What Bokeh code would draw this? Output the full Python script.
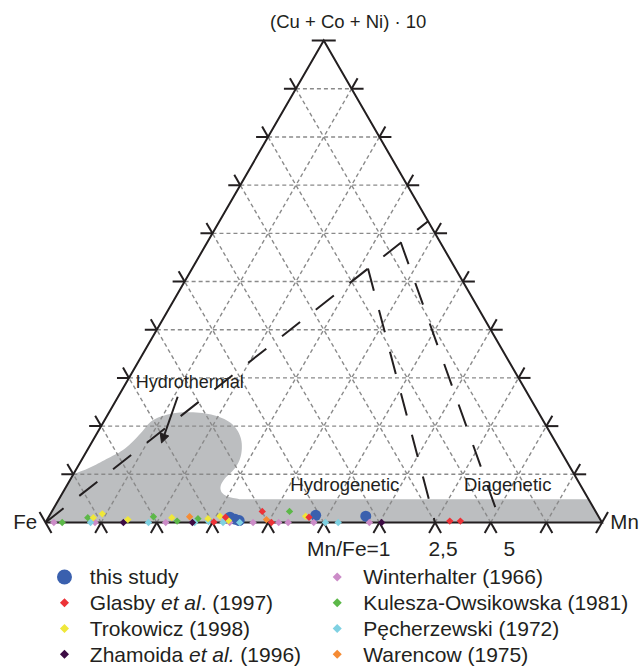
import numpy as np
from bokeh.plotting import figure
from bokeh.models import Range1d, Arrow, NormalHead
from bokeh.core.properties import value
from bokeh.embed import file_html
from bokeh.resources import INLINE

S3 = np.sqrt(3) / 2

# ---------------------------------------------------------------------------
# Compositions in %: Mn and (Cu + Co + Ni)*10 ("top"); Fe is the remainder.
# ---------------------------------------------------------------------------
this_study_mn = [32.6, 33.7, 34.6, 47.8, 56.9]
this_study_top = [1.1, 0.7, 0.4, 1.5, 1.3]

glasby_mn = [30.2, 31.8, 37.8, 40.6, 46.8, 72.5, 74.4]
glasby_top = [0.1, 1.1, 2.3, 0.0, 1.1, 0.3, 0.3]

trokowicz_mn = [8.1, 9.3, 14.5, 22.2, 28.8, 30.7, 32.7, 46.1]
trokowicz_top = [1.0, 1.8, 0.6, 1.0, 0.8, 1.3, 0.4, 1.3]

zhamoida_mn = [14.0, 26.4, 60.4]
zhamoida_top = [0.0, 0.0, 0.0]

winterhalter_mn = [1.5, 8.9, 21.6, 33.1, 37.3, 41.9, 43.6, 48.2, 58.2]
winterhalter_top = [0.0, 0.0, 0.0, 0.0, 0.0, 0.0, 0.0, 0.0, 0.0]

kulesza_mn = [3.0, 7.1, 18.8, 23.5, 27.0, 42.7]
kulesza_top = [0.0, 1.0, 1.2, 0.3, 0.8, 2.3]

pecherzewski_mn = [8.1, 18.5, 26.8, 29.2, 31.9, 34.9, 50.3, 52.6]
pecherzewski_top = [0.0, 0.0, 0.0, 0.2, 0.0, 0.0, 0.0, 0.0]

warencow_mn = [25.3, 39.4]
warencow_top = [1.2, 0.6]

# Shaded field: curved hydrothermal lobe (from the Fe-side edge) ...
lobe_mn = [0.0, 2.4, 4.5, 6.6, 7.9, 8.3, 10.7, 13.6, 18.3, 22.8, 26.2,
           28.2, 28.6, 27.6, 27.6, 29.3, 32.6]
lobe_top = [10.0, 11.4, 13.3, 15.0, 18.4, 21.2, 22.5, 23.0, 22.6, 21.0, 18.0,
            14.3, 11.3, 9.3, 7.2, 5.5, 4.8]
# ... and the low band along the Fe-Mn side
band_top = 4.8

# Field boundaries (Mn %, top %)
main_mn, main_top = [0.0, 37.5], [0.0, 62.5]
branch1_mn, branch1_top = [31.6, 70.0], [52.7, 0.0]
branch2_mn, branch2_top = [34.8, 81.8], [58.1, 0.0]

# Arrow pointing into the hydrothermal field (Mn %, top %)
arrow_mn, arrow_top = [10.7, 12.6], [26.1, 16.5]

# Mn/Fe ratio marks under the base
ratio_values = [1.0, 2.5, 5.0]
ratio_labels = ["Mn/Fe=1", "2,5", "5"]

legend_left = [("this study", None), ("Glasby et al. (1997)", "glasby"),
               ("Trokowicz (1998)", "trokowicz"), ("Zhamoida et al. (1996)", "zhamoida")]
legend_right = ["Winterhalter (1966)", "Kulesza-Owsikowska (1981)",
                "Pęcherzewski (1972)", "Warencow (1975)"]

# ---------------------------------------------------------------------------
INK = "#231f20"
FONT = value("Liberation Sans")
COLORS = {
    "this": "#3a60ae", "glasby": "#ec3237", "trokowicz": "#efe73a",
    "zhamoida": "#3d0c44", "winterhalter": "#cc8cc8", "kulesza": "#5cb848",
    "pecherzewski": "#7fd1e2", "warencow": "#f58b34",
}


def tern(mn, top):
    mn = np.asarray(mn, float) / 100.0
    top = np.asarray(top, float) / 100.0
    return mn + top / 2.0, top * S3


def chaikin(xs, ys, n=3):
    pts = np.column_stack([xs, ys])
    for _ in range(n):
        q = 0.75 * pts[:-1] + 0.25 * pts[1:]
        r = 0.25 * pts[:-1] + 0.75 * pts[1:]
        new = np.empty((2 * len(q), 2))
        new[0::2] = q
        new[1::2] = r
        pts = np.vstack([pts[:1], new, pts[-1:]])
    return pts[:, 0], pts[:, 1]


# Arial / Liberation Sans advance widths (1/1000 em) for the mixed-style labels
ADV = {"G": 778, "l": 222, "a": 556, "s": 500, "b": 556, "y": 500, " ": 278,
       "e": 556, "t": 278, ".": 278, "(": 333, ")": 333, "Z": 611, "h": 556,
       "m": 833, "o": 556, "i": 222, "d": 556}
for dgt in "0123456789":
    ADV[dgt] = 556


def text_width(s, size_px, unit_px):
    return sum(ADV[c] for c in s) / 1000.0 * size_px / unit_px


# Canvas: the triangle side spans UNIT px; Fe corner sits at (LEFT, BASE) px
W, H = 641, 666
UNIT, LEFT, BASE = 556.5, 45.0, 522.0

p = figure(width=W, height=H,
           x_range=Range1d(-LEFT / UNIT, (W - LEFT) / UNIT),
           y_range=Range1d(-(H - BASE) / UNIT, BASE / UNIT),
           output_backend="svg", toolbar_location=None,
           x_axis_location=None, y_axis_location=None, min_border=0)
p.xgrid.visible = False
p.ygrid.visible = False
p.outline_line_color = None
p.background_fill_color = "white"
p.border_fill_color = "white"

# --- shaded field ----------------------------------------------------------
lx, ly = tern(lobe_mn, lobe_top)
sx, sy = chaikin(lx, ly, 3)
bx, by = tern([100 - band_top, 100.0, 0.0], [band_top, 0.0, 0.0])
p.patch(np.concatenate([sx, bx]), np.concatenate([sy, by]),
        fill_color="#bcbec0", line_color=None)

# --- 10 % grid -----------------------------------------------------------------
gx, gy = [], []
for k in np.arange(1, 10) / 10.0:
    gx.append([k / 2, 1 - k / 2]); gy.append([k * S3, k * S3])
    gx.append([k, k + (1 - k) / 2]); gy.append([0, (1 - k) * S3])
    gx.append([1 - k, (1 - k) / 2]); gy.append([0, (1 - k) * S3])
p.multi_line(gx, gy, line_color="#8a8a8a", line_width=1.4, line_dash="4 3")

# --- field boundaries ------------------------------------------------------------
for m, t in [(main_mn, main_top), (branch1_mn, branch1_top), (branch2_mn, branch2_top)]:
    x, y = tern(m, t)
    p.line(x, y, line_color=INK, line_width=2, line_dash="23 20")

# --- triangle and ticks -----------------------------------------------------------
p.line([0, 1, 0.5, 0], [0, 0, S3, 0], line_color=INK, line_width=2, line_join="miter")
TL = 12.0 / UNIT
tx, ty = [], []
for k in np.arange(1, 10) / 10.0:
    for (px0, py0), dirs in [((k / 2, k * S3), [(-1, 0), (-0.5, S3)]),
                             ((k, 0.0), [(-0.5, -S3), (0.5, -S3)]),
                             ((1 - k / 2, k * S3), [(1, 0), (0.5, S3)])]:
        for dx, dy in dirs:
            tx.append([px0, px0 + TL * dx]); ty.append([py0, py0 + TL * dy])
for (cx, cy), (dx, dy) in [((0, 0), (0.5, -S3)), ((1, 0), (0.5, S3)), ((0.5, S3), (1, 0))]:
    tx.append([cx - TL * dx, cx + TL * dx]); ty.append([cy - TL * dy, cy + TL * dy])
p.multi_line(tx, ty, line_color=INK, line_width=2)

# --- samples -----------------------------------------------------------------------
x, y = tern(this_study_mn, this_study_top)
p.scatter(x, y, marker="circle", size=11, fill_color=COLORS["this"], line_color=None)
DIAMOND = dict(marker="square", angle=np.pi / 4, size=5.2, line_color=None)
for key, m, t in [("winterhalter", winterhalter_mn, winterhalter_top),
                  ("kulesza", kulesza_mn, kulesza_top),
                  ("pecherzewski", pecherzewski_mn, pecherzewski_top),
                  ("zhamoida", zhamoida_mn, zhamoida_top),
                  ("trokowicz", trokowicz_mn, trokowicz_top),
                  ("warencow", warencow_mn, warencow_top),
                  ("glasby", glasby_mn, glasby_top)]:
    x, y = tern(m, t)
    p.scatter(x, y, fill_color=COLORS[key], **DIAMOND)

# --- arrow and labels --------------------------------------------------------------
ax, ay = tern(arrow_mn, arrow_top)
p.add_layout(Arrow(end=NormalHead(size=9, fill_color=INK, line_color=INK),
                   x_start=ax[0], y_start=ay[0], x_end=ax[1], y_end=ay[1],
                   line_color=INK, line_width=2))

TEXT_DY = 7.0 / UNIT   # lift applied to every baseline


def label(xv, yv, s, size, align="left", style="normal"):
    p.text([xv], [yv + TEXT_DY], text=[s], text_font=FONT, text_font_size=size,
           text_align=align, text_baseline="alphabetic", text_color=INK,
           text_font_style=style)


label(0.544, 0.887, "(Cu + Co + Ni) · 10", "18.5px", "center")
label(-0.015, -0.010, "Fe", "20.5px", "right")
label(1.015, -0.011, "Mn", "20.5px", "left")
label(0.162, 0.240, "Hydrothermal", "18px")
label(0.440, 0.055, "Hydrogenetic", "18.5px")
label(0.752, 0.055, "Diagenetic", "18.5px")

for r, s in zip(ratio_values, ratio_labels):
    xr = r / (1 + r)
    if s.startswith("Mn/Fe"):
        label(xr - 0.030, -0.060, s, "21px", "left")
    else:
        label(xr, -0.060, s, "21px", "center")

# --- legend --------------------------------------------------------------------------
LEG_SIZE = 21.0
row_base = [-0.1105 - 0.0462 * i for i in range(4)]
col_mark = [0.0341, 0.5242]
col_text = [0.0796, 0.5709]
MARK_DY = 0.0125

p.scatter([col_mark[0]], [row_base[0] + MARK_DY], marker="circle", size=15,
          fill_color=COLORS["this"], line_color=None)
label(col_text[0], row_base[0], "this study", "21px")

LEG_DIAMOND = dict(marker="square", angle=np.pi / 4, size=6.4, line_color=None)
left_parts = {
    "glasby": [("Glasby", "normal", ""), ("et al", "italic", "Glasby "),
               (". (1997)", "normal", "Glasby et al")],
    "trokowicz": [("Trokowicz (1998)", "normal", "")],
    "zhamoida": [("Zhamoida", "normal", ""), ("et al.", "italic", "Zhamoida "),
                 ("(1996)", "normal", "Zhamoida et al. ")],
}
for i, (name, key) in enumerate(legend_left[1:], start=1):
    p.scatter([col_mark[0]], [row_base[i] + MARK_DY], fill_color=COLORS[key], **LEG_DIAMOND)
    for s, style, before in left_parts[key]:
        off = text_width(before, LEG_SIZE, UNIT) if before else 0.0
        label(col_text[0] + off, row_base[i], s, "21px", "left", style)

for i, (name, key) in enumerate(zip(legend_right, ["winterhalter", "kulesza",
                                                   "pecherzewski", "warencow"])):
    p.scatter([col_mark[1]], [row_base[i] + MARK_DY], fill_color=COLORS[key], **LEG_DIAMOND)
    label(col_text[1], row_base[i], name, "21px")

open("out.html", "w").write(file_html(p, INLINE))
